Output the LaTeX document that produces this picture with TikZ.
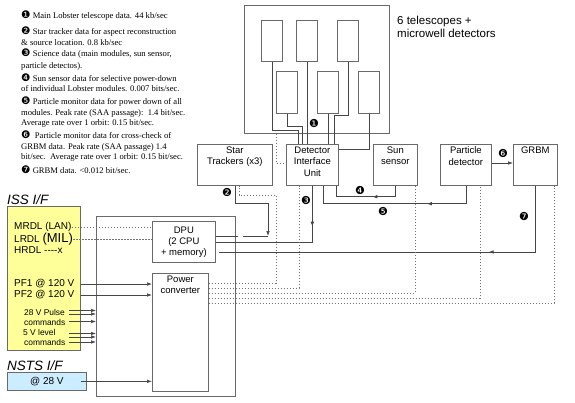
\documentclass[tikz,border=0pt]{standalone}
\usepackage{fontspec}
\setmainfont{Liberation Serif}
\setsansfont{Liberation Sans}
\newfontfamily\dingfont{DejaVu Sans}
\usetikzlibrary{arrows.meta,decorations.markings}

\definecolor{wiregray}{RGB}{70,70,70}
\definecolor{boxgray}{RGB}{105,105,105}
\definecolor{dotgray}{RGB}{115,115,115}
\definecolor{issyellow}{RGB}{255,255,153}
\definecolor{nstsblue}{RGB}{204,236,255}

\newcommand{\bdg}[1]{{\dingfont\fontsize{10.5}{9}\selectfont #1}}

\begin{document}
\begin{tikzpicture}[x=1pt, y=-1pt,
        >={Latex[length=5pt,width=3.6pt]},
        every node/.style={align=center},
        unit/.style={draw=boxgray, line width=0.7pt, fill=white,
                     anchor=north west, inner sep=0pt},
        boxtext/.style={anchor=north, inner sep=2.5pt, align=center,
                        font=\sffamily\fontsize{9.5}{11.5}\selectfont},
        tscope/.style={draw=boxgray, line width=0.7pt, anchor=north west,
                       minimum width=21pt, minimum height=41pt, inner sep=0pt},
        wire/.style={wiregray, line width=0.7pt},
        dotline/.style={dotgray, line width=0.7pt, dash pattern=on 1.5pt off 1.5pt},
        arrowat/.style={postaction={decorate}, decoration={markings,
                        mark=at position #1 with {\arrow{>}}}},
        note/.style={anchor=base west, inner sep=0pt, align=left,
                     font=\rmfamily\fontsize{8.6}{10.5}\selectfont},
        badge/.style={inner sep=0pt, font=\dingfont\fontsize{11}{11}\selectfont},
        iftext/.style={anchor=west, inner sep=0pt,
                       font=\sffamily\fontsize{10}{12}\selectfont},
        cmdtext/.style={anchor=west, inner sep=0pt,
                        font=\sffamily\fontsize{8.4}{9}\selectfont},
        iftitle/.style={anchor=base west, inner sep=0pt,
                        font=\sffamily\itshape\fontsize{13.5}{14}\selectfont},
    ]
    \useasboundingbox (0,0) rectangle (575,402);

    % --- Data notes (top left); anchored on the last line's baseline --------
    \node[note] (n1) at (21,18.5) {\bdg{❶}\ Main Lobster telescope data. 44 kb/sec};
    \node[note] (n2) at (21,45) {\bdg{❷}\ Star tracker data for aspect reconstruction\\
        \& source location. 0.8 kb/sec};
    \node[note] (n3) at (21,68.5) {\bdg{❸}\ Science data (main modules, sun sensor,\\[2pt]
        particle detectos).};
    \node[note] (n4) at (21,91.5) {\bdg{❹}\ Sun sensor data for selective power-down\\
        of individual Lobster modules. 0.007 bits/sec.};
    \node[note] (n5) at (21,125.5) {\bdg{❺}\ Particle monitor data for power down of all\\
        modules. Peak rate (SAA passage):\ \ 1.4 bit/sec.\\
        Average rate over 1 orbit: 0.15 bit/sec.};
    \node[note] (n6) at (21,159.5) {\bdg{❻}\ \ Particle monitor data for cross-check of\\
        GRBM data. Peak rate (SAA passage) 1.4\\
        bit/sec.\ \ Average rate over 1 orbit: 0.15 bit/sec.};
    \node[note] (n7) at (21,173.5) {\bdg{❼}\ GRBM data. <0.012 bit/sec.};

    % --- Telescope block ---------------------------------------------------
    \node[unit, minimum width=145pt, minimum height=128pt] (tel) at (244,5) {};
    \node[tscope] (ta) at (261,20) {};
    \node[tscope] (tb) at (296,20) {};
    \node[tscope] (tc) at (337,20) {};
    \node[tscope, minimum height=42pt] (td) at (276,71) {};
    \node[tscope, minimum height=42pt] (te) at (317,71) {};
    \node[tscope, minimum height=42pt] (tf) at (358,71) {};
    \node[anchor=west, inner sep=0pt, align=left,
          font=\sffamily\fontsize{11.5}{13}\selectfont] (tellabel) at (397,26.5)
        {6 telescopes +\\microwell detectors};

    % --- Instrument row ----------------------------------------------------
    \node[unit, minimum width=75pt, minimum height=41pt,
          label={[boxtext]north:Star\\Trackers (x3)}] (st) at (197,144) {};
    \node[unit, minimum width=52pt, minimum height=41pt,
          label={[boxtext]north:Detector\\Interface\\Unit}] (diu) at (286,144) {};
    \node[unit, minimum width=44pt, minimum height=41pt,
          label={[boxtext]north:Sun\\sensor}] (sun) at (373,144) {};
    \node[unit, minimum width=51pt, minimum height=41pt,
          label={[boxtext]north:Particle\\detector}] (pd) at (440,144) {};
    \node[unit, minimum width=44pt, minimum height=41pt,
          label={[boxtext]north:GRBM}] (grbm) at (513,144) {};

    % --- On-board electronics ----------------------------------------------
    \node[unit, minimum width=139pt, minimum height=180pt] (obc) at (96,216) {};
    \node[unit, minimum width=63pt, minimum height=41pt,
          font=\sffamily\fontsize{9.5}{11}\selectfont] (dpu) at (152,221)
        {DPU\\(2 CPU\\+ memory)};
    \node[unit, minimum width=56pt, minimum height=118pt,
          label={[boxtext]north:Power\\converter}] (pc) at (152,273) {};

    % --- ISS and NSTS interfaces -------------------------------------------
    \node[unit, fill=issyellow, minimum width=73pt, minimum height=144pt] (iss) at (7,206) {};
    \node[iftitle] (isstitle) at (7,204) {ISS I/F};
    \node[iftext] (mrdl) at (14,227) {MRDL (LAN)};
    \node[iftext] (lrdl) at (14,239) {LRDL {\fontsize{13}{13}\selectfont(MIL)}};
    \node[iftext] (hrdl) at (14,250) {HRDL -{}-{}-{}-x};
    \node[iftext] (pf1) at (14,284) {PF1 @ 120 V};
    \node[iftext] (pf2) at (14,295) {PF2 @ 120 V};
    \node[cmdtext] (pulse) at (24,312) {28 V Pulse};
    \node[cmdtext] (pulsecmd) at (24,322) {commands};
    \node[cmdtext] (level) at (23,332) {5 V level};
    \node[cmdtext] (levelcmd) at (24,342) {commands};

    \node[unit, fill=nstsblue, minimum width=79pt, minimum height=18pt,
          font=\sffamily\fontsize{10}{12}\selectfont] (nsts) at (7,372) {@ 28 V};
    \node[iftitle] (nststitle) at (7,370) {NSTS I/F};

    % --- Telescope feeds into the DIU --------------------------------------
    \draw[wire] (ta.south) |- (298,130) -- (298,0 |- diu.north);
    \draw[wire] (td.south) |- (302,126) -- (302,0 |- diu.north);
    \draw[wire] (tb.south) -- (tb.south |- diu.north);
    \draw[wire] (te.south) -- (te.south |- diu.north);
    \draw[wire] (tc.south) |- (334,115) -- (334,0 |- diu.north);
    \draw[wire] (tf.south) |- (diu.east |- 0,149);
    \draw[dotline] (276,0 |- tel.south) |- (diu.west |- 0,163);

    % --- Data paths --------------------------------------------------------
    \coordinate (stin) at (268,236);
    \coordinate (grbmin) at (219,252);
    \draw[wire, ->] (st.south) |- (268,203) -- (stin);
    \draw[wire] (dpu.east |- stin) -- (238,236);
    \draw[wire] (243,236) -- (stin);
    \draw[wire, arrowat=41pt] (diu.south) |- (dpu.east |- 0,242);
    \draw[wire, arrowat=34pt] (sun.south) -- ++(0,11) -| (336,0 |- diu.south);
    \draw[wire, arrowat=57pt] (pd.south) -- ++(0,18) -| (323,0 |- diu.south);
    \draw[wire, ->] (pd.east |- 0,163) -- (grbm.west |- 0,163);
    \draw[wire, arrowat=113pt] (grbm.south) |- (grbmin);

    % --- Power distribution (dotted) ---------------------------------------
    \draw[dotline] (pc.east |- 0,283) -| (276,195) -| (239,0 |- st.south);
    \draw[dotline] (pc.east |- 0,288) -| (299,0 |- diu.south);
    \draw[dotline] (pc.east |- 0,293) -| (415,0 |- sun.south);
    \draw[dotline] (pc.east |- 0,298) -| (480,0 |- pd.south);
    \draw[dotline] (pc.east |- 0,303) -| (554,0 |- grbm.south);

    % --- Interface links ---------------------------------------------------
    \draw[dotline] (mrdl.east) -- (dpu.west |- mrdl.east);
    \draw[dotline] (lrdl.east) -- (dpu.west |- lrdl.east);
    \draw[wire, ->] (iss.east |- pf1) -- (pc.west |- pf1);
    \draw[wire, ->] (iss.east |- pf2) -- (pc.west |- pf2);
    \foreach \y in {310.5,314,321.5,333.5,337,342}
        \draw[wire, ->] (69,\y) -- (obc.west |- 0,\y);
    \draw[wire, ->] ([xshift=-6pt]nsts.east) -- (pc.west |- nsts.east);

    % --- Path numbers ------------------------------------------------------
    \node[badge] (b1) at (314,123) {❶};
    \node[badge] (b2) at (227,192) {❷};
    \node[badge] (b3) at (306,200) {❸};
    \node[badge] (b4) at (360,190) {❹};
    \node[badge] (b5) at (383,211) {❺};
    \node[badge] (b6) at (503,153) {❻};
    \node[badge] (b7) at (524,216) {❼};

\end{tikzpicture}
\end{document}
